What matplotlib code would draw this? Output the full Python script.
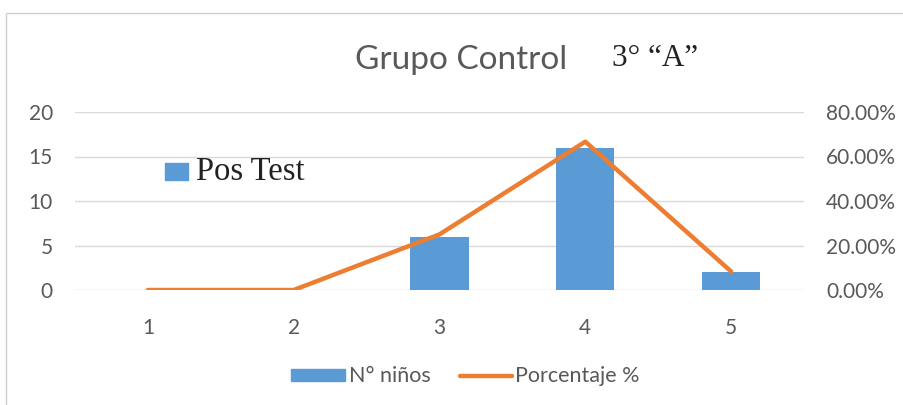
import numpy as np
import matplotlib.pyplot as plt
from matplotlib.patches import Rectangle
from matplotlib.ticker import FuncFormatter

categorias = [1, 2, 3, 4, 5]
ninos = [0, 0, 6, 16, 2]
porcentaje = [0.0, 0.0, 0.25, 0.6667, 0.0833]

azul = '#5B9BD5'
naranja = '#ED7D31'
gris = '#595959'

plt.rcParams['font.family'] = ['Lato', 'DejaVu Sans']

fig = plt.figure(figsize=(9.04, 4.05), dpi=100)
ax = fig.add_axes([75 / 904, 1 - 290 / 405, 729 / 904, 178 / 405])
ax2 = ax.twinx()

ax.bar(categorias, ninos, width=0.4, color=azul, zorder=2)
ax2.plot(categorias, porcentaje, color=naranja, lw=3.2, solid_capstyle='round', zorder=3)

ax.set_xlim(0.5, 5.5)
ax.set_ylim(0, 20)
ax2.set_ylim(0, 0.8)
ax.set_yticks([0, 5, 10, 15, 20])
ax2.set_yticks([0, 0.2, 0.4, 0.6, 0.8])
ax2.yaxis.set_major_formatter(FuncFormatter(lambda v, p: f'{v * 100:.2f}%'))
ax.set_xticks(categorias)

ax.grid(axis='y', color='#D9D9D9', lw=1, zorder=0)
for a in (ax, ax2):
    for s in a.spines.values():
        s.set_visible(False)
    a.tick_params(length=0, labelsize=15, labelcolor=gris)
ax.tick_params(axis='y', pad=16)
ax2.tick_params(axis='y', pad=16)
ax.tick_params(axis='x', pad=20)
ax.set_zorder(ax2.get_zorder() - 1)
ax2.patch.set_visible(False)

fig.text(355 / 904, 1 - 60 / 405, 'Grupo Control', fontsize=24, color=gris, va='center')
fig.text(612 / 904, 1 - 58 / 405, '3° “A”', fontsize=22.5, color='#222222',
         family='Liberation Serif', va='center')

fig.patches.append(Rectangle((165 / 904, 1 - 180 / 405), 23 / 904, 17 / 405,
                             transform=fig.transFigure, color=azul, zorder=5))
fig.text(196 / 904, 1 - 172 / 405, 'Pos Test', fontsize=23.5, color='#222222',
         family='Liberation Serif', va='center')

# leyenda inferior
fig.patches.append(Rectangle((291 / 904, 1 - 381 / 405), 54 / 904, 12 / 405,
                             transform=fig.transFigure, color=azul))
fig.text(349 / 904, 1 - 376 / 405, 'N° niños', fontsize=15.5, color=gris, va='center')
fig.lines.append(plt.Line2D([460 / 904, 512 / 904], [1 - 376 / 405, 1 - 376 / 405],
                            transform=fig.transFigure, color=naranja, lw=3.2,
                            solid_capstyle='round'))
fig.text(515 / 904, 1 - 376 / 405, 'Porcentaje %', fontsize=15.5, color=gris, va='center')

# marco del grafico
fig.patches.append(Rectangle((6 / 904, -0.1), 1.0, 1 - 13 / 405 + 0.1,
                             transform=fig.transFigure, fill=False,
                             edgecolor='#D0D0D0', lw=1))

fig.savefig('out.png', dpi=100)
